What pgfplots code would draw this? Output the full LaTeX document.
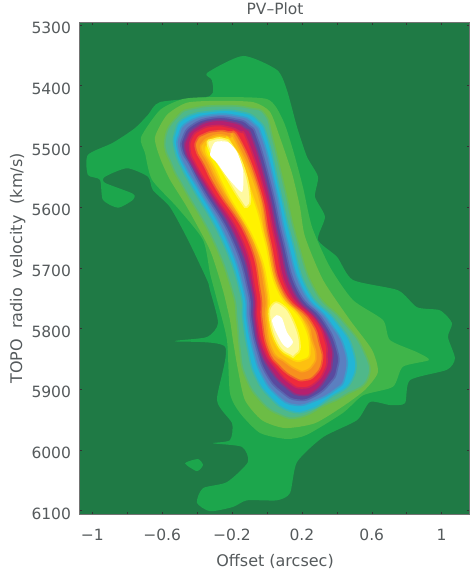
\documentclass[border=0pt]{standalone}
\usepackage{fontspec}
\setmainfont{DejaVu Sans}
\usepackage{pgfplots}
\pgfplotsset{compat=1.18}
\definecolor{c0}{HTML}{1F7A45}
\definecolor{c1}{HTML}{1CA64C}
\definecolor{c2}{HTML}{3FB54A}
\definecolor{c3}{HTML}{6CBD45}
\definecolor{c4}{HTML}{4FB88A}
\definecolor{c5}{HTML}{22B5D6}
\definecolor{c6}{HTML}{5B7FC0}
\definecolor{c7}{HTML}{5A4A9F}
\definecolor{c8}{HTML}{B5206F}
\definecolor{c9}{HTML}{EE2A3C}
\definecolor{c10}{HTML}{F7901E}
\definecolor{c11}{HTML}{FDC010}
\definecolor{c12}{HTML}{FFF200}
\definecolor{c13}{HTML}{FFF9A0}
\definecolor{txt}{HTML}{555A5C}
\pgfplotsset{lev/.style={fill=#1,draw=none,mark=none,smooth cycle,tension=0.4,forget plot},
 lin/.style 2 args={fill=#1,draw=#2!50!#1,line width=1.6pt,mark=none,smooth cycle,tension=0.85,forget plot}}
\begin{document}
\begin{tikzpicture}[x=1pt,y=1pt]
\path[use as bounding box] (0,0) rectangle (469,577);
\begin{axis}[at={(79.5pt,62.5pt)},anchor=south west,scale only axis,width=389.5pt,height=492pt,
 xmin=-1.073,xmax=1.1565,ymin=5295.9,ymax=6106.4,y dir=reverse,
 axis background/.style={fill=c0},
 xtick={-1,-0.8,-0.6,-0.4,-0.2,0,0.2,0.4,0.6,0.8,1},
 xticklabels={−1,,−0.6,,−0.2,,0.2,,0.6,,1},
 ytick={5300,5400,5500,5600,5700,5800,5900,6000,6100},
 yticklabels={5300,5400,5500,5600,5700,5800,5900,6000,6100},
 tick align=inside,tick style={color=black!80,line width=0.5pt},major tick length=2.5pt,
 axis line style={color=black!55,line width=0.6pt},
 tick label style={font=\fontsize{15.5}{18}\selectfont,text=txt},
 xticklabel style={yshift=-11pt},
 yticklabel style={yshift=-3pt,xshift=-5pt},
 /pgf/number format/assume math mode=true,
 xlabel={Offset (arcsec)},ylabel={TOPO\hspace{5pt} radio\hspace{5pt} velocity\hspace{6pt} (km/s)},title={PV--Plot},
 label style={font=\fontsize{16}{18}\selectfont,text=txt},
 title style={font=\fontsize{15.5}{18}\selectfont,text=txt,at={(axis description cs:0.502,1.005)},anchor=base},
 xlabel style={at={(axis description cs:0.502,-0.1057)},anchor=base},
 ylabel style={at={(axis description cs:-0.1476,0.5)},anchor=base},
 clip=true]
\addplot[lev=c1] coordinates {(-0.343,5379)(-0.137,5351)(0.057,5374)(0.114,5407)(0.172,5468)(0.229,5517)(0.292,5550)(0.275,5583)(0.332,5616)(0.292,5654)(0.401,5682)(0.492,5720)(0.750,5737)(0.859,5765)(0.990,5770)(1.059,5791)(1.036,5814)(1.076,5849)(1.030,5868)(0.819,5885)(0.790,5923)(0.704,5926)(0.590,5921)(0.515,5951)(0.321,5979)(0.172,6020)(0.132,6071)(0.057,6083)(-0.114,6083)(-0.195,6094)(-0.326,6101)(-0.401,6087)(-0.366,6063)(-0.229,6053)(-0.109,6020)(-0.143,5995)(-0.309,5989)(-0.212,5984)(-0.200,5956)(-0.286,5918)(-0.240,5830)(-0.527,5821)(-0.343,5814)(-0.280,5791)(-0.326,5737)(-0.343,5720)(-0.452,5654)(-0.555,5600)(-0.653,5572)(-0.681,5550)(-0.801,5536)(-0.927,5550)(-0.927,5560)(-0.767,5578)(-0.767,5588)(-0.853,5601)(-0.939,5588)(-0.956,5555)(-1.025,5547)(-1.025,5514)(-0.882,5494)(-0.756,5470)(-0.681,5448)(-0.612,5427)(-0.326,5417)(-0.315,5391)};
\addplot[lev=c1] coordinates {(-0.469,6022)(-0.395,6015)(-0.366,6025)(-0.401,6035)};
\addplot[lev=c2] coordinates {(-0.721,5485)(-0.612,5440)(-0.481,5422)(-0.326,5419)(0,5422)(0.092,5457)(0.149,5506)(0.206,5567)(0.258,5633)(0.361,5699)(0.492,5753)(0.664,5786)(0.704,5819)(0.859,5839)(0.927,5852)(0.778,5863)(0.721,5896)(0.550,5910)(0.435,5939)(0.229,5975)(0.114,5982)(-0.040,5972)(-0.155,5939)(-0.212,5906)(-0.229,5819)(-0.286,5753)(-0.326,5709)(-0.366,5654)(-0.515,5600)(-0.658,5555)(-0.698,5511)};
\addplot[lev=c3] coordinates {(-0.641,5485)(-0.572,5448)(-0.458,5428)(-0.286,5425)(-0.080,5427)(0.017,5443)(0.074,5485)(0.143,5544)(0.189,5600)(0.218,5649)(0.321,5720)(0.475,5786)(0.601,5835)(0.635,5872)(0.561,5901)(0.446,5926)(0.275,5956)(0.103,5964)(-0.029,5951)(-0.126,5918)(-0.166,5868)(-0.195,5819)(-0.212,5786)(-0.252,5737)(-0.326,5671)(-0.458,5600)(-0.555,5555)(-0.612,5519)};
\addplot[lin={c4}{c3}] coordinates {(-0.584,5489)(-0.544,5531)(-0.469,5572)(-0.309,5654)(-0.200,5737)(-0.172,5786)(-0.155,5835)(-0.126,5877)(-0.040,5918)(0.074,5942)(0.189,5946)(0.332,5926)(0.446,5910)(0.578,5882)(0.550,5835)(0.429,5786)(0.275,5737)(0.172,5654)(0.103,5572)(0.034,5489)(-0.011,5448)(-0.097,5437)(-0.240,5433)(-0.412,5437)(-0.509,5450)};
\addplot[lin={c5}{c4}] coordinates {(-0.527,5506)(-0.481,5539)(-0.418,5572)(-0.258,5654)(-0.155,5737)(-0.137,5786)(-0.109,5835)(-0.069,5877)(0.017,5913)(0.132,5936)(0.246,5934)(0.361,5914)(0.487,5885)(0.492,5835)(0.389,5786)(0.235,5737)(0.143,5654)(0.074,5572)(0.006,5489)(-0.052,5457)(-0.155,5443)(-0.315,5442)(-0.469,5453)(-0.527,5478)};
\addplot[lin={c6}{c5}] coordinates {(-0.509,5506)(-0.458,5539)(-0.389,5572)(-0.229,5654)(-0.132,5737)(-0.114,5786)(-0.080,5835)(-0.029,5877)(0.057,5910)(0.160,5926)(0.275,5919)(0.389,5901)(0.446,5880)(0.446,5835)(0.349,5786)(0.206,5737)(0.114,5654)(0.052,5572)(-0.023,5489)(-0.080,5461)(-0.166,5450)(-0.315,5448)(-0.452,5460)(-0.504,5481)};
\addplot[lin={c7}{c6}] coordinates {(-0.487,5506)(-0.441,5531)(-0.366,5572)(-0.200,5654)(-0.109,5737)(-0.092,5786)(-0.057,5835)(0,5877)(0.086,5905)(0.177,5918)(0.275,5911)(0.361,5890)(0.401,5868)(0.401,5835)(0.321,5786)(0.177,5737)(0.092,5654)(0.029,5572)(-0.052,5489)(-0.103,5465)(-0.183,5455)(-0.315,5453)(-0.429,5465)(-0.481,5485)};
\addplot[lin={c8}{c7}] coordinates {(-0.469,5506)(-0.424,5534)(-0.343,5572)(-0.172,5654)(-0.086,5737)(-0.074,5786)(-0.040,5835)(0.029,5872)(0.114,5898)(0.189,5910)(0.275,5903)(0.349,5877)(0.372,5857)(0.366,5827)(0.292,5786)(0.149,5737)(0.069,5654)(0.006,5572)(-0.080,5489)(-0.126,5470)(-0.200,5460)(-0.315,5458)(-0.412,5470)(-0.458,5486)};
\addplot[lin={c9}{c8}] coordinates {(-0.441,5506)(-0.406,5531)(-0.321,5572)(-0.143,5654)(-0.069,5737)(-0.057,5786)(-0.017,5835)(0.057,5868)(0.132,5890)(0.200,5898)(0.275,5890)(0.332,5868)(0.343,5844)(0.332,5819)(0.275,5786)(0.120,5737)(0.046,5654)(-0.017,5572)(-0.114,5489)(-0.155,5476)(-0.223,5468)(-0.309,5466)(-0.384,5473)(-0.429,5485)};
\addplot[lin={c10}{c9}] coordinates {(-0.406,5506)(-0.361,5531)(-0.286,5572)(-0.109,5654)(-0.040,5737)(-0.029,5786)(0.006,5835)(0.074,5863)(0.160,5882)(0.218,5885)(0.275,5877)(0.315,5855)(0.303,5827)(0.246,5786)(0.092,5737)(0.017,5654)(-0.040,5572)(-0.155,5489)(-0.223,5476)(-0.298,5475)(-0.361,5480)(-0.401,5489)};
\addplot[lin={c11}{c10}] coordinates {(-0.378,5506)(-0.338,5527)(-0.258,5572)(-0.086,5654)(-0.011,5737)(-0.006,5786)(0.029,5835)(0.103,5855)(0.172,5868)(0.218,5870)(0.263,5860)(0.280,5844)(0.258,5819)(0.218,5786)(0.074,5737)(0,5654)(-0.057,5572)(-0.183,5489)(-0.212,5485)(-0.269,5481)(-0.326,5485)(-0.366,5493)};
\addplot[lin={c12}{c11}] coordinates {(-0.349,5509)(-0.303,5533)(-0.223,5580)(-0.063,5662)(0.006,5737)(0.011,5786)(0.052,5827)(0.132,5849)(0.206,5852)(0.246,5835)(0.200,5786)(0.063,5737)(-0.011,5654)(-0.074,5588)(-0.200,5498)(-0.246,5488)(-0.303,5489)(-0.338,5496)};
\addplot[lin={c13}{c12}] coordinates {(-0.338,5499)(-0.258,5539)(-0.155,5588)(-0.114,5600)(-0.097,5580)(-0.137,5531)(-0.200,5498)(-0.240,5488)(-0.303,5488)};
\addplot[lin={c13}{c12}] coordinates {(0.017,5786)(0.063,5827)(0.132,5844)(0.160,5844)(0.189,5827)(0.149,5786)(0.086,5761)(0.029,5761)};
\addplot[lev=white] coordinates {(-0.326,5514)(-0.298,5493)(-0.223,5493)(-0.172,5509)(-0.137,5539)(-0.143,5575)(-0.229,5550)(-0.286,5527)};
\addplot[lev=white] coordinates {(0.029,5786)(0.057,5778)(0.086,5783)(0.114,5806)(0.149,5822)(0.120,5832)(0.086,5824)(0.046,5802)};
\end{axis}
\end{tikzpicture}
\end{document}
